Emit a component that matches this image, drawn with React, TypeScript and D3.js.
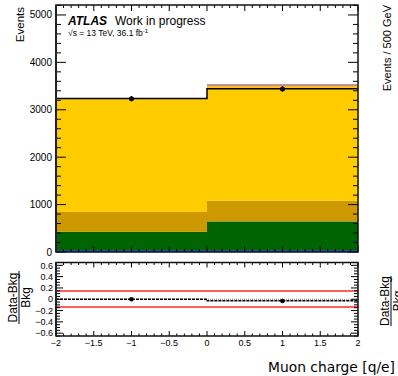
import React from "react";
import * as d3 from "d3";

// ---- data ----
const binEdges = [-2, 0, 2];
const binCenters = [-1, 1];
const bkgBlue = [35, 35];
const bkgGreen = [390, 610];
const bkgDarkGold = [420, 435];
const bkgYellow = [2389, 2416];
const bkgRed = [0, 21];
const bkgGray = [0, 27];
const refLine = [3238, 3445];
const dataValues = [3234, 3439];
const sysUp = 0.145;
const sysDown = -0.135;
const mainYTicks = [0, 1000, 2000, 3000, 4000, 5000];
const ratioYTicks = [-0.6, -0.4, -0.2, 0, 0.2, 0.4, 0.6];
const xTicks = [-2, -1.5, -1, -0.5, 0, 0.5, 1, 1.5, 2];

const layers = [
  { name: "blue", values: bkgBlue, color: "#1560b8" },
  { name: "green", values: bkgGreen, color: "#006400" },
  { name: "darkgold", values: bkgDarkGold, color: "#cc9900" },
  { name: "yellow", values: bkgYellow, color: "#ffcc00" },
  { name: "red", values: bkgRed, color: "#e8504a" },
  { name: "gray", values: bkgGray, color: "#a8a0a0" },
];

const FONT = "'Liberation Sans', Arial, Helvetica, sans-serif";

const fmt = (v: number) => {
  const s = Math.abs(v) < 1e-9 ? "0" : String(+v.toFixed(2));
  return s.replace("-", "\u2212");
};

export default function App() {
  const L = 56, R = 358;
  const mainTop = 5, mainBot = 252;
  const rTop = 262.5, rBot = 336;

  const x = d3.scaleLinear().domain([-2, 2]).range([L, R]);
  const y = d3.scaleLinear().domain([0, 5210]).range([mainBot, mainTop]);
  const yr = d3.scaleLinear().domain([-0.65, 0.65]).range([rBot, rTop]);

  const rects: JSX.Element[] = [];
  binCenters.forEach((_, i) => {
    let base = 0;
    layers.forEach((ly) => {
      const v = ly.values[i];
      if (v > 0) {
        rects.push(
          <rect
            key={ly.name + i}
            x={x(binEdges[i])}
            width={x(binEdges[i + 1]) - x(binEdges[i])}
            y={y(base + v)}
            height={y(base) - y(base + v)}
            fill={ly.color}
          />
        );
      }
      base += v;
    });
  });

  const totals = binCenters.map((_, i) => layers.reduce((s, ly) => s + ly.values[i], 0));
  const ratioData = dataValues.map((d, i) => d / totals[i] - 1);
  const ratioLine = refLine.map((d, i) => d / totals[i] - 1);

  const stepPath = (vals: number[], sc: (v: number) => number) => {
    let p = "";
    vals.forEach((v, i) => {
      p += (i === 0 ? "M" : "L") + x(binEdges[i]) + "," + sc(v) + "L" + x(binEdges[i + 1]) + "," + sc(v);
    });
    return p;
  };

  const xMinor = d3.range(-2, 2.0001, 0.1);
  const yMinor = d3.range(0, 5201, 200);
  const rMinor = d3.range(-0.65, 0.6501, 0.05);

  return (
    <svg width={398} height={376} style={{ position: "absolute", left: 0, top: 0, background: "#fff" }}>
      {rects}
      <path d={stepPath(bkgBlue, y)} stroke="#0a4a9a" strokeWidth={1} fill="none" />
      <path d={stepPath(refLine, y)} stroke="#000" strokeWidth={1.5} fill="none" />
      {binCenters.map((c, i) => (
        <g key={"d" + i}>
          <line x1={x(c)} x2={x(c)} y1={y(dataValues[i] + Math.sqrt(dataValues[i]))} y2={y(dataValues[i] - Math.sqrt(dataValues[i]))} stroke="#000" strokeWidth={1} />
          <circle cx={x(c)} cy={y(dataValues[i])} r={2.5} fill="#000" />
        </g>
      ))}
      {xMinor.map((t, i) => {
        const major = Math.abs(t * 2 - Math.round(t * 2)) < 1e-6;
        const len = major ? 6 : 3;
        return (
          <g key={"mx" + i}>
            <line x1={x(t)} x2={x(t)} y1={mainBot} y2={mainBot - len} stroke="#000" strokeWidth={1} />
            <line x1={x(t)} x2={x(t)} y1={mainTop} y2={mainTop + len} stroke="#000" strokeWidth={1} />
          </g>
        );
      })}
      {yMinor.map((t, i) => {
        const major = t % 1000 === 0;
        const len = major ? 10 : 5;
        return (
          <g key={"my" + i}>
            <line x1={L} x2={L + len} y1={y(t)} y2={y(t)} stroke="#000" strokeWidth={1} />
            <line x1={R} x2={R - len} y1={y(t)} y2={y(t)} stroke="#000" strokeWidth={1} />
          </g>
        );
      })}
      <rect x={L} y={mainTop} width={R - L} height={mainBot - mainTop} fill="none" stroke="#111" strokeWidth={1.5} />
      <line x1={L} x2={L} y1={mainTop} y2={mainBot} stroke="#222" strokeWidth={2} />
      {mainYTicks.map((t) => (
        <text key={"myl" + t} x={52} y={y(t) + 3.5} textAnchor="end" fontSize={10} fontFamily={FONT} fill="#000">
          {t}
        </text>
      ))}
      <text transform={`translate(24,7) rotate(-90)`} textAnchor="end" fontSize={11.5} fontFamily={FONT}>
        Events
      </text>
      <text x={68} y={25} fontSize={12} fontFamily={FONT} fontWeight="bold" fontStyle="italic">
        ATLAS
      </text>
      <text x={115} y={25} fontSize={12} fontFamily={FONT}>
        Work in progress
      </text>
      <text x={68} y={36} fontSize={8.5} fontFamily={FONT}>
        √s = 13 TeV, 36.1 fb
        <tspan dy={-3.5} fontSize={6}>-1</tspan>
      </text>
      <text transform={`translate(391,5) rotate(-90)`} textAnchor="end" fontSize={11} fontFamily={FONT}>
        Events / 500 GeV
      </text>

      <line x1={L} x2={R} y1={yr(0)} y2={yr(0)} stroke="#888" strokeWidth={1} strokeDasharray="1,1" />
      <line x1={L} x2={R} y1={yr(sysUp)} y2={yr(sysUp)} stroke="#ff2a2a" strokeWidth={1.5} />
      <line x1={L} x2={R} y1={yr(sysDown)} y2={yr(sysDown)} stroke="#ff2a2a" strokeWidth={1.5} />
      <path d={stepPath(ratioLine, yr)} stroke="#000" strokeWidth={1.5} fill="none" strokeDasharray="3,1" />
      {binCenters.map((c, i) => {
        const e = Math.sqrt(dataValues[i]) / totals[i];
        return (
          <g key={"r" + i}>
            <line x1={x(c)} x2={x(c)} y1={yr(ratioData[i] + e)} y2={yr(ratioData[i] - e)} stroke="#000" />
            <circle cx={x(c)} cy={yr(ratioData[i])} r={2.3} fill="#000" />
          </g>
        );
      })}
      {xMinor.map((t, i) => {
        const major = Math.abs(t * 2 - Math.round(t * 2)) < 1e-6;
        const len = major ? 5 : 2.5;
        return (
          <g key={"rx" + i}>
            <line x1={x(t)} x2={x(t)} y1={rBot} y2={rBot - len} stroke="#000" strokeWidth={1} />
            <line x1={x(t)} x2={x(t)} y1={rTop} y2={rTop + len} stroke="#000" strokeWidth={1} />
          </g>
        );
      })}
      {rMinor.map((t, i) => {
        const major = Math.abs(t * 5 - Math.round(t * 5)) < 1e-6;
        const len = major ? 7 : 4;
        return (
          <g key={"ry" + i}>
            <line x1={L} x2={L + len} y1={yr(t)} y2={yr(t)} stroke="#000" strokeWidth={1} />
            <line x1={R} x2={R - len} y1={yr(t)} y2={yr(t)} stroke="#000" strokeWidth={1} />
          </g>
        );
      })}
      <rect x={L} y={rTop} width={R - L} height={rBot - rTop} fill="none" stroke="#111" strokeWidth={1.5} />
      <line x1={L} x2={L} y1={rTop} y2={rBot} stroke="#222" strokeWidth={2} />
      {ratioYTicks.map((t) => (
        <text key={"ryl" + t} x={53} y={yr(t) + 3.2} textAnchor="end" fontSize={9} fontFamily={FONT}>
          {fmt(t)}
        </text>
      ))}
      {xTicks.map((t) => (
        <text key={"xl" + t} x={x(t)} y={346} textAnchor="middle" fontSize={9} fontFamily={FONT}>
          {fmt(t)}
        </text>
      ))}
      <text transform={`translate(17,297.5) rotate(-90)`} textAnchor="middle" fontSize={12} fontFamily={FONT}>
        Data-Bkg
      </text>
      <line x1={19} x2={19} y1={271} y2={324} stroke="#000" strokeWidth={1} />
      <text transform={`translate(30,297.5) rotate(-90)`} textAnchor="middle" fontSize={12} fontFamily={FONT}>
        Bkg
      </text>
      <text transform={`translate(389,301) rotate(-90)`} textAnchor="middle" fontSize={12} fontFamily={FONT}>
        Data-Bkg
      </text>
      <line x1={391} x2={391} y1={276} y2={326} stroke="#000" strokeWidth={1} />
      <text transform={`translate(402,301) rotate(-90)`} textAnchor="middle" fontSize={12} fontFamily={FONT}>
        Bkg
      </text>
      <text x={395} y={372} textAnchor="end" fontSize={14} fontFamily={"'DejaVu Sans', sans-serif"} textLength={127} lengthAdjust="spacingAndGlyphs">
        Muon charge [q/e]
      </text>
    </svg>
  );
}
